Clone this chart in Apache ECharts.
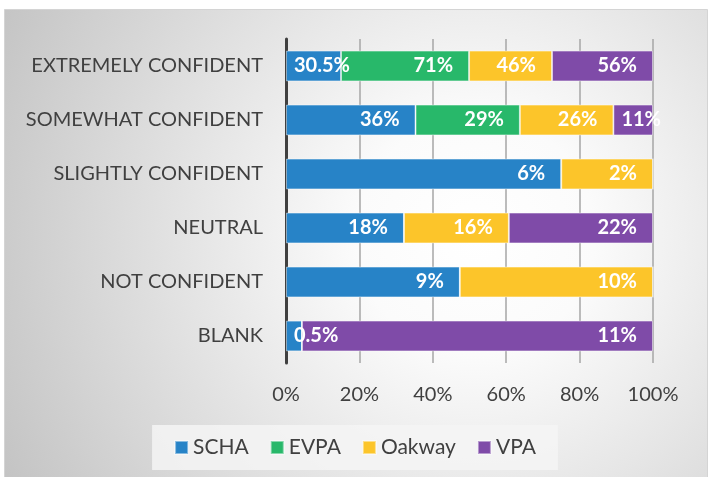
<!DOCTYPE html>
<html>
<head>
<meta charset="utf-8">
<script src="https://cdn.jsdelivr.net/npm/echarts@6/dist/echarts.min.js"></script>
<style>
  html, body { margin: 0; padding: 0; background: #fff; }
  #main { width: 710px; height: 477px; }
</style>
</head>
<body>
<div id="main"></div>
<script>
// categories, top to bottom
var categories = ['EXTREMELY CONFIDENT', 'SOMEWHAT CONFIDENT', 'SLIGHTLY CONFIDENT', 'NEUTRAL', 'NOT CONFIDENT', 'BLANK']
var seriesNames = ['SCHA', 'EVPA', 'Oakway', 'VPA']
// raw percentages shown on the labels (0 = no segment)
var schaValues = [30.5, 36, 6, 18, 9, 0.5]
var evpaValues = [71, 29, 0, 0, 0, 0]
var oakwayValues = [46, 26, 2, 16, 10, 0]
var vpaValues = [56, 11, 0, 22, 0, 11]
var tickLabels = ['0%', '20%', '40%', '60%', '80%', '100%']
var colors = ['#2783c7', '#28b86a', '#fcc52a', '#7f4ba8']

var allValues = [schaValues, evpaValues, oakwayValues, vpaValues]
var rowTotals = categories.map(function (c, i) {
  var s = 0
  allValues.forEach(function (arr) { s += arr[i] })
  return s
})

var series = seriesNames.map(function (name, k) {
  return {
    name: name,
    type: 'bar',
    stack: 'total',
    barCategoryGap: '43%',
    itemStyle: {
      color: colors[k],
      borderColor: 'rgba(255,255,255,0.45)',
      borderWidth: 1
    },
    data: allValues[k].map(function (v, i) {
      var share = v / rowTotals[i] * 100
      // narrow segments: Excel starts the label at the left of the segment
      var narrow = share < 18
      return {
        value: share,
        raw: v,
        label: {
          show: v > 0,
          position: narrow ? 'insideLeft' : 'insideRight',
          distance: narrow ? 8 : 16
        }
      }
    }),
    label: {
      color: '#fff',
      fontFamily: 'Lato',
      fontWeight: 'bold',
      fontSize: 20,
      formatter: function (p) { return p.data.raw + '%' }
    }
  }
})

var chart = echarts.init(document.getElementById('main'))
var option = {
  animation: false,
  textStyle: { fontFamily: 'Lato' },
  graphic: [{
    type: 'rect',
    z: -100,
    silent: true,
    shape: { x: 4.5, y: 9.5, width: 703, height: 470 },
    style: {
      fill: new echarts.graphic.RadialGradient(0.67, 0.48, 1.15, [
        { offset: 0, color: '#ffffff' },
        { offset: 0.22, color: '#fbfbfb' },
        { offset: 1, color: '#c2c2c2' }
      ]),
      stroke: '#d4d4d4',
      lineWidth: 1
    }
  }],
  grid: {
    left: 286,
    right: 57,
    top: 39,
    bottom: 114
  },
  legend: {
    data: seriesNames,
    left: 'center',
    top: 425,
    padding: [12, 22, 12, 22],
    backgroundColor: 'rgba(244,244,244,0.85)',
    itemWidth: 13,
    itemHeight: 13,
    itemGap: 21,
    icon: 'rect',
    textStyle: { color: '#404040', fontSize: 21, fontFamily: 'Lato' }
  },
  xAxis: {
    type: 'value',
    min: 0,
    max: 100,
    interval: 20,
    axisLine: { show: false },
    axisTick: { show: false },
    axisLabel: {
      color: '#404040',
      fontSize: 20,
      margin: 22,
      formatter: function (v) { return tickLabels[v / 20] }
    },
    splitLine: { lineStyle: { color: '#a6a6a6', width: 1.5 } }
  },
  yAxis: {
    type: 'category',
    data: categories,
    inverse: true,
    axisLine: { show: true, lineStyle: { color: '#404040', width: 3 } },
    axisTick: { show: false },
    axisLabel: { color: '#404040', fontSize: 20, margin: 23 }
  },
  series: series
}
option && chart.setOption(option)
</script>
</body>
</html>
